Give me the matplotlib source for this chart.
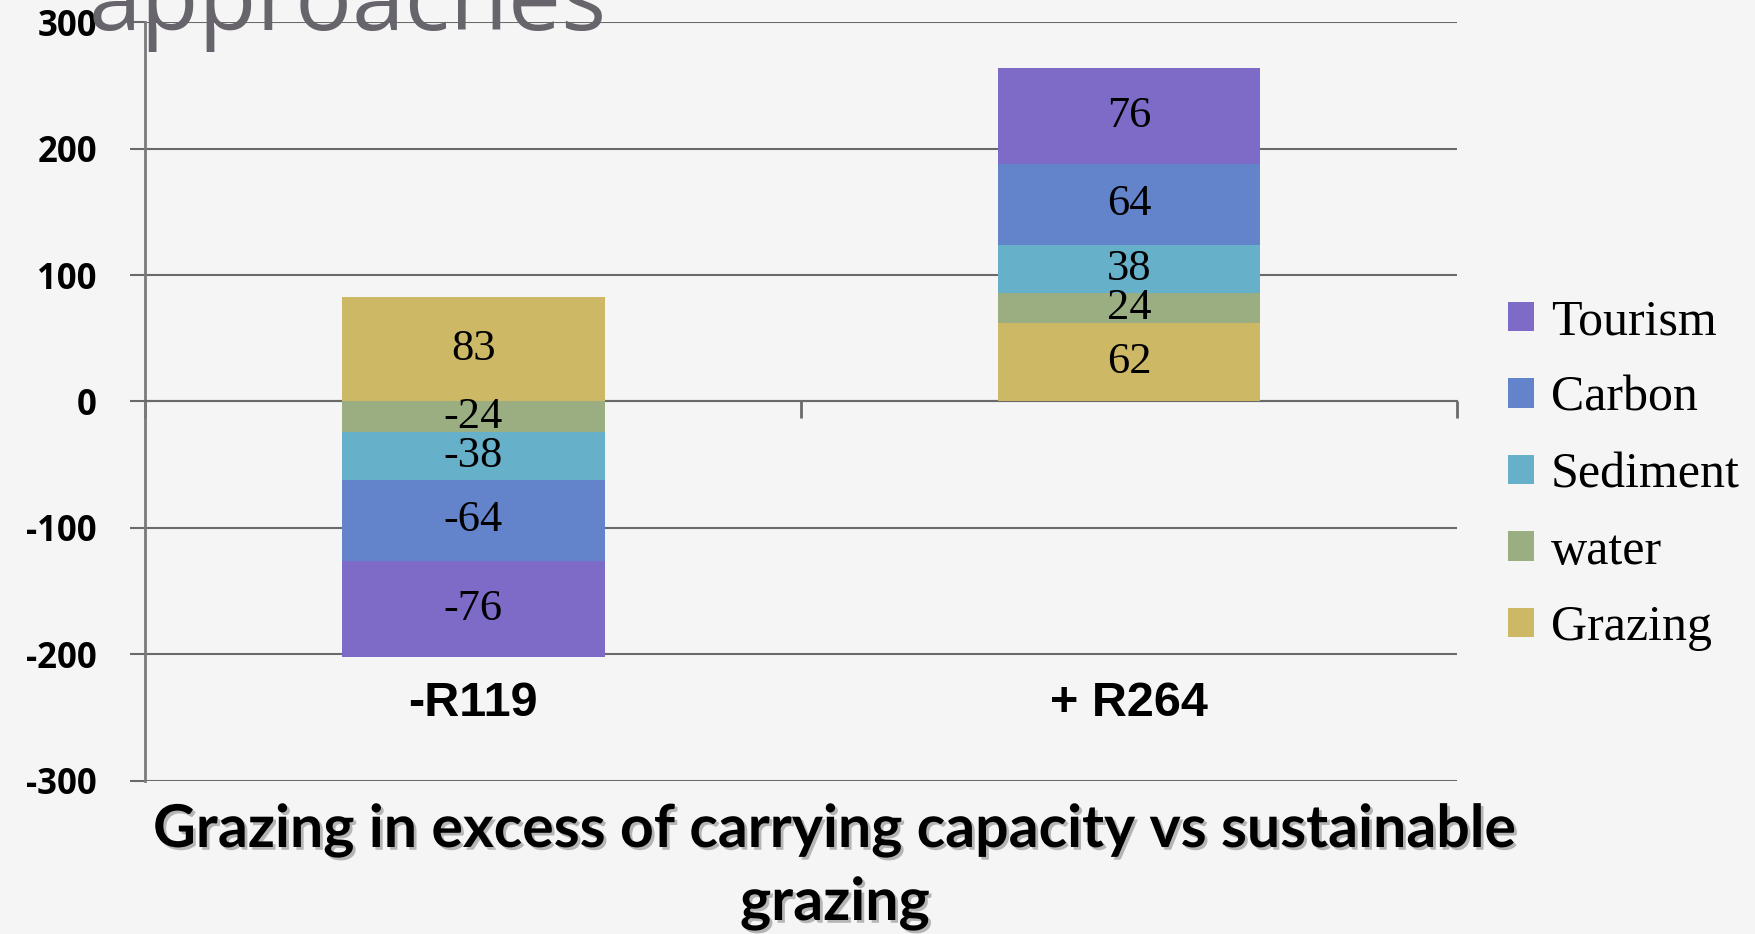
import numpy as np
import matplotlib
matplotlib.use('Agg')
import matplotlib.pyplot as plt
import matplotlib.transforms as mtrans
import matplotlib.patheffects as pe

# data
categories = ['-R119', '+ R264']
series = ['Grazing', 'water', 'Sediment', 'Carbon', 'Tourism']
grazing = [83, 62]
water = [-24, 24]
sediment = [-38, 38]
carbon = [-64, 64]
tourism = [-76, 76]
yticks = [-300, -200, -100, 0, 100, 200, 300]

COLORS = ['#cdb865', '#9bae82', '#67b0c9', '#6383cb', '#7e6bc8']
BG = '#f5f5f5'
GRID = '#6a6a6a'

plt.rcParams['axes.unicode_minus'] = False

fig = plt.figure(figsize=(17.55, 9.34), dpi=100, facecolor=BG)
ax = fig.add_axes([0.0829, 0.1643, 0.8302 - 0.0829, 0.976 - 0.1643])
ax.set_facecolor(BG)

x = np.arange(len(categories))
pos_bottom = np.zeros(len(categories))
neg_bottom = np.zeros(len(categories))
handles = []
for name, vals, col in zip(series, [grazing, water, sediment, carbon, tourism], COLORS):
    vals = np.array(vals, dtype=float)
    bottom = np.where(vals >= 0, pos_bottom, neg_bottom)
    bars = ax.bar(x, vals, 0.4, bottom=bottom, color=col, label=name, zorder=3)
    ax.bar_label(bars, fmt='%d', label_type='center', fontsize=32,
                 family='Liberation Serif', color='black', zorder=4)
    pos_bottom += np.where(vals >= 0, vals, 0)
    neg_bottom += np.where(vals < 0, vals, 0)
    handles.append(bars)

ax.set_xlim(-0.5, 1.5)
ax.set_ylim(-300, 300)
ax.set_yticks(yticks)
ax.set_yticklabels([str(v) for v in yticks], fontsize=25, fontweight='bold',
                   family='Open Sans')
ax.yaxis.grid(True, color=GRID, linewidth=1.5, zorder=0)
ax.tick_params(axis='y', length=11, width=1.5, color=GRID, pad=24)

for s in ['top', 'right']:
    ax.spines[s].set_visible(False)
ax.spines['left'].set_color('#7a7a7a')
ax.spines['left'].set_linewidth(2)
ax.spines['bottom'].set_position(('data', 0))
ax.spines['bottom'].set_color(GRID)
ax.spines['bottom'].set_linewidth(1.5)

# category axis at zero with boundary ticks
ax.set_xticks([-0.5, 0.5, 1.5])
ax.set_xticklabels([])
ax.tick_params(axis='x', length=12, width=2, color=GRID, direction='out')

# category labels placed low
trans = mtrans.blended_transform_factory(ax.transData, ax.transAxes)
for xi, lab in zip(x, categories):
    ax.text(xi, 0.102, lab, transform=trans, ha='center', va='center',
            fontsize=35, fontweight='bold', family='Liberation Sans')

# legend (Tourism on top)
leg = fig.legend(handles[::-1], series[::-1], loc='center left',
                 bbox_to_anchor=(0.859, 0.4914), frameon=False,
                 prop={'family': 'Liberation Serif', 'size': 36},
                 handlelength=0.52, handleheight=0.52, handletextpad=0.35,
                 labelspacing=0.6, borderpad=0, borderaxespad=0)

# slide title overflow at the very top
fig.text(0.0507, 1 - 30 / 934, 'approaches', ha='left', va='baseline',
         fontsize=68, family='Open Sans', color='#67656b')

# axis title with shadow
shadow = [pe.withSimplePatchShadow(offset=(2, -2), shadow_rgbFace='#9a9a9a', alpha=0.7)]
fig.text(0.4758, 1 - 847 / 934, 'Grazing in excess of carrying capacity vs sustainable',
         ha='center', va='baseline', fontsize=42.5, fontweight='bold', family='Lato',
         path_effects=shadow)
fig.text(0.4758, 1 - 920 / 934, 'grazing', ha='center', va='baseline',
         fontsize=42.5, fontweight='bold', family='Lato', path_effects=shadow)

plt.savefig('out.png', dpi=100, facecolor=BG)
